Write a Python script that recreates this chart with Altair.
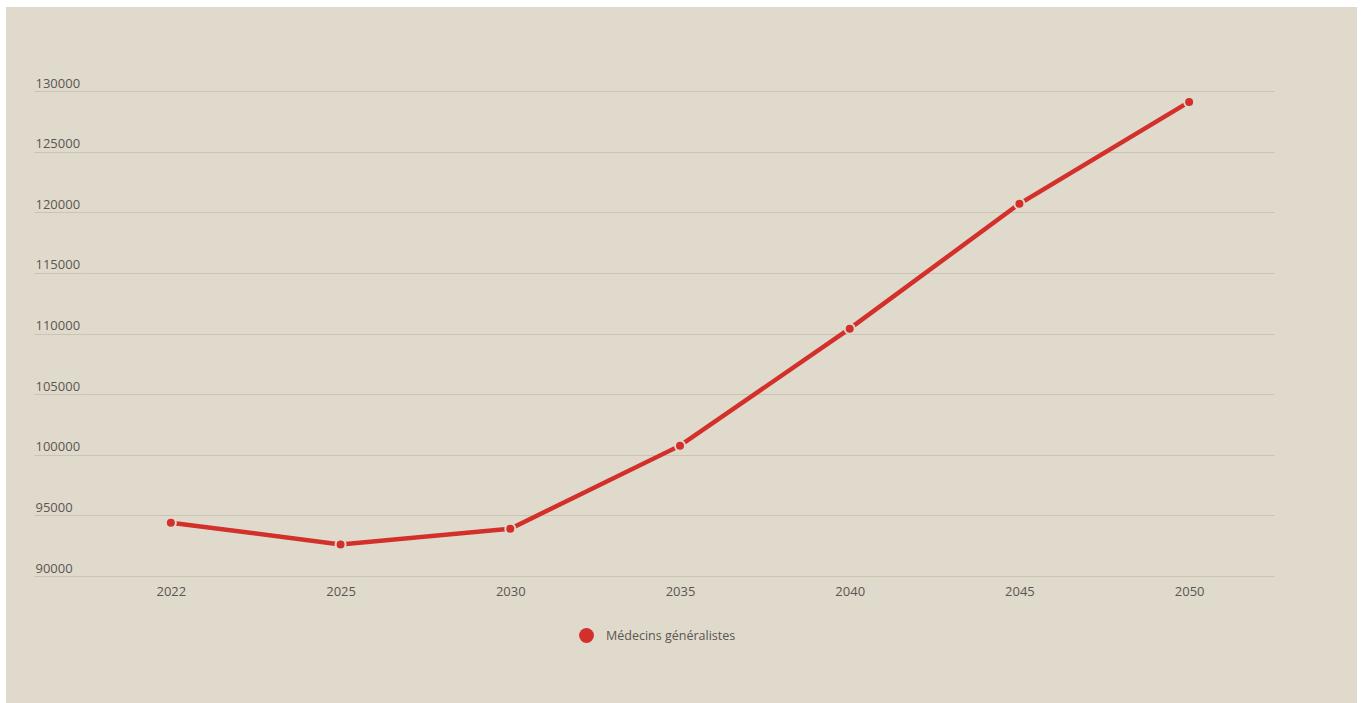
import altair as alt
import pandas as pd

years = ["2022", "2025", "2030", "2035", "2040", "2045", "2050"]
values = [94400, 92600, 93900, 100750, 110400, 120700, 129100]
series_name = "Médecins généralistes"

df = pd.DataFrame({"year": years, "value": values, "series": [series_name] * len(years)})

BG = "#e0dacc"
RED = "#d3302c"
TXT = "#5a5651"
GRID = "#cbc4b5"
FONT = "Open Sans"

W, H = 1188, 485
PL, PT, PR, PB = 86, 91, 88, 127

# white page margins around the beige panel (decoration only)
one = pd.DataFrame({"a": [0]})
def strip(x0, x1, y0, y1):
    return alt.Chart(one).mark_rect(color="white").encode(
        x=alt.value(x0), x2=alt.value(x1), y=alt.value(y0), y2=alt.value(y1))

margins = [
    strip(-PL, 6 - PL, -PT, H + PB),
    strip(-PL, W + PR, -PT, 7 - PT),
    strip(1357 - PL, W + PR, -PT, H + PB),
]

base = alt.Chart(df).encode(
    x=alt.X("year:N", sort=years, title=None,
            scale=alt.Scale(paddingInner=1, paddingOuter=0.5),
            axis=alt.Axis(domain=False, ticks=False, labelAngle=0, labelPadding=9,
                          labelFont=FONT, labelFontSize=13, labelColor=TXT, grid=False)),
    y=alt.Y("value:Q", title=None,
            scale=alt.Scale(domain=[90000, 130000], nice=False, zero=False),
            axis=alt.Axis(values=list(range(90000, 130001, 5000)), format="d",
                          domain=False, tickSize=52, tickColor=GRID, tickWidth=1,
                          grid=True, gridColor=GRID, gridWidth=1,
                          labelAlign="left", labelPadding=-1, labelBaseline="alphabetic",
                          labelOffset=-4, labelFont=FONT, labelFontSize=13, labelColor=TXT)),
    color=alt.Color("series:N", title=None,
                    scale=alt.Scale(domain=[series_name], range=[RED]),
                    legend=alt.Legend(orient="none", legendX=493, legendY=537,
                                      symbolType="circle", symbolSize=220,
                                      symbolStrokeWidth=0, symbolFillColor=RED,
                                      labelFont=FONT, labelFontSize=12.5, labelColor=TXT,
                                      labelOffset=12)),
)

line = base.mark_line(strokeWidth=4.5)
pts = base.mark_circle(size=100, opacity=1, stroke=BG, strokeWidth=2)

chart = alt.layer(line, pts, *margins).properties(
    width=W, height=H,
    autosize=alt.AutoSizeParams(type="none"),
    padding={"left": PL, "top": PT, "right": PR, "bottom": PB},
    background=BG,
).configure_view(stroke=None)

chart.save("out.html", embed_options={"renderer": "svg", "actions": False})
